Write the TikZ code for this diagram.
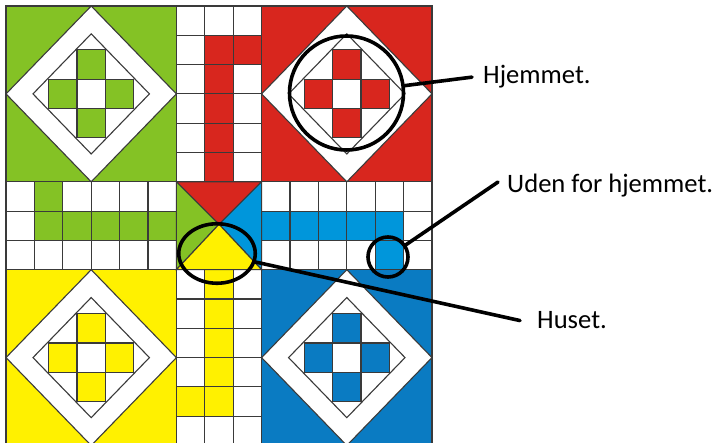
\documentclass[tikz,border=0pt]{standalone}
\usepackage{fontspec}
\setmainfont{Carlito}
\usepackage{xcolor}
\usetikzlibrary{shapes.geometric, calc}
\definecolor{ludogreen}{HTML}{84C225}
\definecolor{ludored}{HTML}{D8261E}
\definecolor{ludoyellow}{HTML}{FFF100}
\definecolor{ludoblue}{HTML}{0A7BC2}
\definecolor{pathblue}{HTML}{0096DB}
\definecolor{gridgray}{HTML}{3A3A3A}

\begin{document}
\begin{tikzpicture}[
      x=1pt, y=-1pt,
      cell/.style={draw=gridgray, line width=1.1pt},
      gem/.style={cell, fill=white, line join=miter},
      ring/.style={draw=black, line width=3.6pt, circle, inner sep=0pt},
      callout/.style={black, line width=3.6pt, line cap=round},
      lbl/.style={anchor=base west, inner sep=0pt, font=\fontsize{26.6}{31}\selectfont},
    ]
    \useasboundingbox (0,0) rectangle (717,443);
    \clip (0,0) rectangle (717,443);

    % --- board, in cell units ---
    \begin{scope}[shift={(6,6)}, x=28.4pt, y=-29.3pt]
      % --- home squares ---
      \foreach \hx/\hy/\col in {0/0/ludogreen, 9/0/ludored, 0/9/ludoyellow, 9/9/ludoblue} {
        \begin{scope}[shift={(\hx,\hy)}]
          \filldraw[cell, fill=\col] (0,0) rectangle (6,6);
          \filldraw[gem] (3,0) -- (6,3) -- (3,6) -- (0,3) -- cycle;
          \draw[cell] (3,0.95) -- (5.05,3) -- (3,5.05) -- (0.95,3) -- cycle;
          % cross of four coloured cells round a white one
          \foreach \dx/\dy in {0/-1, -1/0, 1/0, 0/1}
            \filldraw[cell, fill=\col] (2.5+\dx,2.5+\dy) rectangle ++(1,1);
          \draw[cell] (2.5,2.5) rectangle ++(1,1);
        \end{scope}
      }

      % --- track cells ---
      \foreach \i in {6,7,8} {
        \foreach \j in {0,...,5} {
          \draw[cell] (\i,\j) rectangle ++(1,1);
          \draw[cell] (\i,\j+9) rectangle ++(1,1);
          \draw[cell] (\j,\i) rectangle ++(1,1);
          \draw[cell] (\j+9,\i) rectangle ++(1,1);
        }
      }
      % --- home runs ---
      \foreach \j in {1,...,5} {
        \filldraw[cell, fill=ludored]    (7,\j) rectangle ++(1,1);
        \filldraw[cell, fill=ludoyellow] (7,\j+8) rectangle ++(1,1);
        \filldraw[cell, fill=ludogreen]  (\j,7) rectangle ++(1,1);
        \filldraw[cell, fill=pathblue]   (\j+8,7) rectangle ++(1,1);
      }
      % --- start cells ---
      \filldraw[cell, fill=ludored]    (8,1) rectangle ++(1,1);
      \filldraw[cell, fill=ludogreen]  (1,6) rectangle ++(1,1);
      \filldraw[cell, fill=pathblue]   (13,8) rectangle ++(1,1);
      \filldraw[cell, fill=ludoyellow] (6,13) rectangle ++(1,1);

      % --- centre triangles ---
      \coordinate (mid) at (7.5,7.45);
      \filldraw[cell, fill=ludored]    (6,6) -- (9,6) -- (mid) -- cycle;
      \filldraw[cell, fill=ludogreen]  (6,6) -- (6,9) -- (mid) -- cycle;
      \filldraw[cell, fill=pathblue]   (9,6) -- (9,9) -- (mid) -- cycle;
      \filldraw[cell, fill=ludoyellow] (6,9) -- (9,9) -- (mid) -- cycle;
    \end{scope}

    % --- marks on the board ---
    \node[ring, minimum size=114pt] (homering) at (346.5,93) {};
    \node[ring, minimum size=40pt] (outring) at (388,257) {};
    \node[ring, ellipse, minimum width=76.5pt, minimum height=59.5pt] (housering) at (217,253.5) {};

    % --- labels ---
    \node[lbl] (hjem)  at (483,84)  {Hjemmet.};
    \node[lbl] (uden)  at (507,193) {Uden for hjemmet.};
    \node[lbl] (huset) at (537,329) {Huset.};

    % --- callout lines ---
    \draw[callout] (homering) -- ([xshift=-11pt]hjem.west);
    \draw[callout] (outring) -- ([xshift=-9pt, yshift=4pt]uden.west);
    \draw[callout] (housering) -- ([xshift=-17pt]huset.west);
  \end{tikzpicture}
\end{document}
